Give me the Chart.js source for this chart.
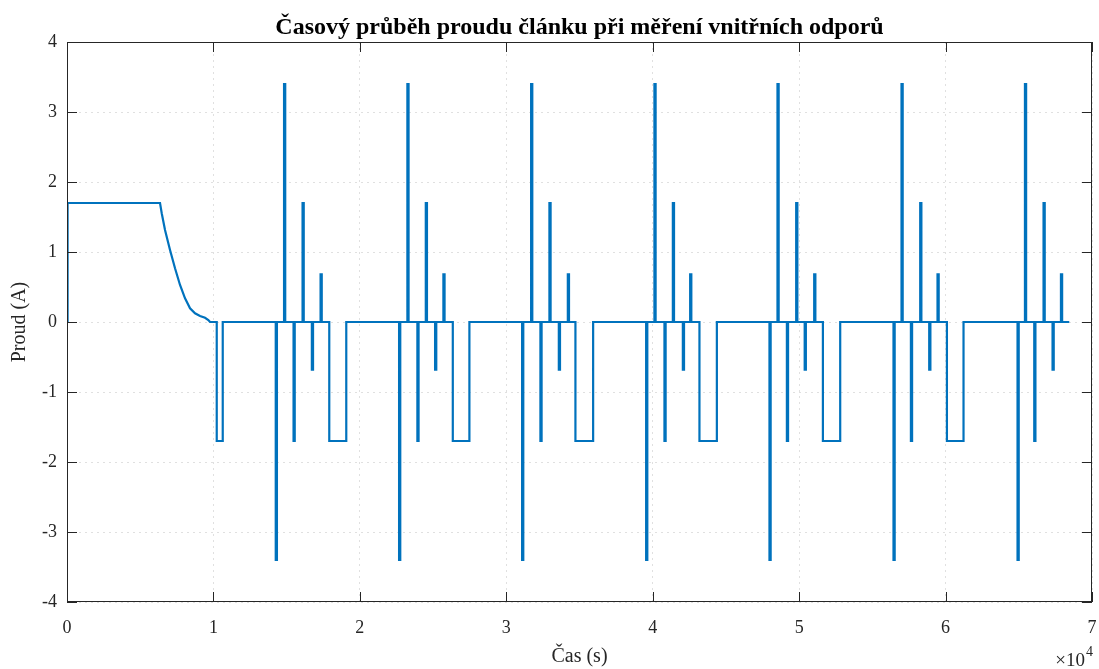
<!DOCTYPE html>
<html>
<head>
<meta charset="utf-8">
<title>Časový průběh proudu</title>
<script src="https://cdn.jsdelivr.net/npm/chart.js@4/dist/chart.umd.min.js"></script>
<style>
  body { margin: 0; background: #fff; }
  canvas { display: block; }
</style>
</head>
<body>
<canvas id="chart" width="1099" height="669"></canvas>
<script>
// nabijeci cast na zacatku (cas v s, proud v A)
const chargeTime = [0, 40, 6353, 6469, 6694, 7036, 7377, 7719, 8061, 8402, 8744, 9085, 9427, 9652, 9768];
const chargeCurrent = [0, 1.7, 1.7, 1.553, 1.314, 1.029, 0.767, 0.529, 0.338, 0.196, 0.124, 0.086, 0.061, 0.029, 0];

// pulzy: zacatek, konec, uroven proudu
const pulseStart = [
  10226,
  14256, 14823, 15472, 16087, 16722, 17317, 17911,
  22679, 23246, 23929, 24503, 25138, 25705, 26347,
  31081, 31696, 32331, 32946, 33588, 34203, 34722,
  39551, 40118, 40802, 41375, 42058, 42557, 43192,
  47974, 48521, 49163, 49798, 50379, 51028, 51622,
  56444, 56991, 57633, 58268, 58883, 59450, 60092,
  64915, 65421, 66056, 66691, 67306, 67880
];
const pulseEnd = [
  10636,
  14336, 14903, 15552, 16167, 16802, 17397, 19072,
  22759, 23326, 24009, 24583, 25218, 25785, 27481,
  31161, 31776, 32411, 33026, 33668, 34283, 35931,
  39631, 40198, 40882, 41455, 42138, 42637, 44381,
  48054, 48601, 49243, 49878, 50459, 51108, 52804,
  56524, 57071, 57713, 58348, 58963, 59530, 61226,
  64995, 65501, 66136, 66771, 67386, 67960
];
const pulseLevel = [
  -1.7,
  -3.4, 3.4, -1.7, 1.7, -0.68, 0.68, -1.7,
  -3.4, 3.4, -1.7, 1.7, -0.68, 0.68, -1.7,
  -3.4, 3.4, -1.7, 1.7, -0.68, 0.68, -1.7,
  -3.4, 3.4, -1.7, 1.7, -0.68, 0.68, -1.7,
  -3.4, 3.4, -1.7, 1.7, -0.68, 0.68, -1.7,
  -3.4, 3.4, -1.7, 1.7, -0.68, 0.68, -1.7,
  -3.4, 3.4, -1.7, 1.7, -0.68, 0.68
];
const endTime = 68447;

const xTicks = [0, 1, 2, 3, 4, 5, 6, 7];
const yTicks = [-4, -3, -2, -1, 0, 1, 2, 3, 4];

function buildSignal() {
  const pts = chargeTime.map((t, i) => ({ x: t, y: chargeCurrent[i] }));
  pulseStart.forEach((t, i) => {
    pts.push({ x: t, y: 0 });
    pts.push({ x: t, y: pulseLevel[i] });
    pts.push({ x: pulseEnd[i], y: pulseLevel[i] });
    pts.push({ x: pulseEnd[i], y: 0 });
  });
  pts.push({ x: endTime, y: 0 });
  return pts;
}

const axisColor = '#262626';
const serif = 'Liberation Serif, Times New Roman, serif';

// ramecek kolem grafu + ticky dovnitr + nasobitel 10^4
const boxPlugin = {
  id: 'box',
  afterDraw(chart) {
    const ctx = chart.ctx;
    const a = chart.chartArea;
    const xs = chart.scales.x, ys = chart.scales.y;
    const tl = 10;
    ctx.save();
    ctx.strokeStyle = axisColor;
    ctx.lineWidth = 1;
    ctx.strokeRect(a.left + 0.5, a.top + 0.5, a.right - a.left - 1, a.bottom - a.top - 1);
    ctx.beginPath();
    xTicks.forEach(v => {
      const px = Math.round(xs.getPixelForValue(v * 10000)) + 0.5;
      ctx.moveTo(px, a.bottom); ctx.lineTo(px, a.bottom - tl);
      ctx.moveTo(px, a.top); ctx.lineTo(px, a.top + tl);
    });
    yTicks.forEach(v => {
      const py = Math.round(ys.getPixelForValue(v)) + 0.5;
      ctx.moveTo(a.left, py); ctx.lineTo(a.left + tl, py);
      ctx.moveTo(a.right, py); ctx.lineTo(a.right - tl, py);
    });
    ctx.stroke();
    ctx.fillStyle = axisColor;
    ctx.textBaseline = 'alphabetic';
    ctx.textAlign = 'right';
    ctx.font = '19px ' + serif;
    ctx.fillText('\u00d710', 1085, 666);
    ctx.textAlign = 'left';
    ctx.font = '14px ' + serif;
    ctx.fillText('4', 1086, 656);
    ctx.restore();
  }
};

function renderChart() {
  const ctx = document.getElementById('chart').getContext('2d');
  new Chart(ctx, {
    type: 'line',
    data: {
      datasets: [{
        label: 'Proud',
        data: buildSignal(),
        borderColor: '#0072BD',
        borderWidth: 2.2,
        pointRadius: 0,
        tension: 0,
        fill: false
      }]
    },
    options: {
      responsive: false,
      animation: false,
      layout: { padding: { left: 0, right: 7, top: 0, bottom: 0 } },
      plugins: {
        legend: { display: false },
        tooltip: { enabled: false },
        title: {
          display: true,
          fullSize: false,
          text: 'Časový průběh proudu článku při měření vnitřních odporů',
          color: '#000',
          font: { family: serif, size: 24, weight: 'bold', lineHeight: 1 },
          padding: { top: 16, bottom: 2 }
        }
      },
      scales: {
        x: {
          type: 'linear',
          min: 0,
          max: 70000,
          afterBuildTicks: s => { s.ticks = xTicks.map(v => ({ value: v * 10000 })); },
          afterFit: s => { s.height = 67; s.paddingLeft = 0; s.paddingRight = 0; },
          ticks: {
            callback: v => String(v / 10000),
            color: axisColor,
            font: { family: serif, size: 18 },
            padding: 15,
            maxRotation: 0
          },
          grid: { color: '#e0e0e0', lineWidth: 1, drawTicks: false },
          border: { display: false, dash: [2, 4] },
          title: {
            display: true,
            text: 'Čas (s)',
            color: axisColor,
            font: { family: serif, size: 20 },
            padding: { top: 0, bottom: 0 }
          }
        },
        y: {
          min: -4,
          max: 4,
          afterBuildTicks: s => { s.ticks = yTicks.map(v => ({ value: v })); },
          afterFit: s => { s.width = 67; s.paddingTop = 0; s.paddingBottom = 0; },
          ticks: {
            callback: v => String(v),
            color: axisColor,
            font: { family: serif, size: 18 },
            padding: 10
          },
          grid: { color: '#e0e0e0', lineWidth: 1, drawTicks: false },
          border: { display: false, dash: [2, 4] },
          title: {
            display: true,
            text: 'Proud (A)',
            color: axisColor,
            font: { family: serif, size: 20 },
            padding: { top: 8, bottom: 4 }
          }
        }
      }
    },
    plugins: [boxPlugin]
  });
}
window.onload = renderChart;
</script>
</body>
</html>
